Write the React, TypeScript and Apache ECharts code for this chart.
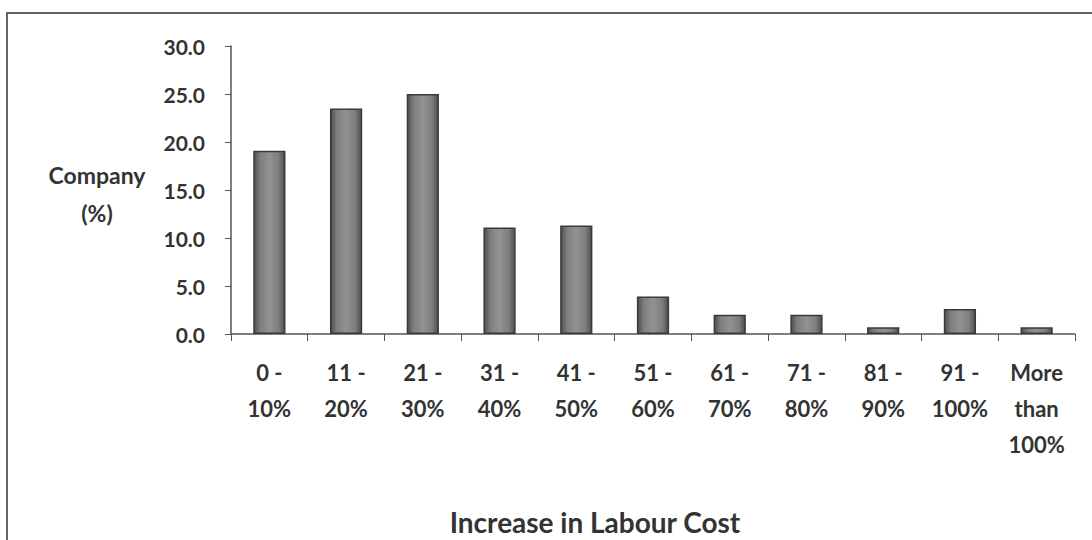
import React, { useEffect, useRef } from "react";
import * as echarts from "echarts";

const categories = [
  "0 -\n10%",
  "11 -\n20%",
  "21 -\n30%",
  "31 -\n40%",
  "41 -\n50%",
  "51 -\n60%",
  "61 -\n70%",
  "71 -\n80%",
  "81 -\n90%",
  "91 -\n100%",
  "More\nthan\n100%",
];
const companyPct = [19.1, 23.5, 25.0, 11.1, 11.3, 3.9, 2.0, 2.0, 0.7, 2.6, 0.7];
const xTitle = "Increase in Labour Cost";
const yTitle = "Company\n(%)";

const FONT = "Lato, 'Open Sans', sans-serif";

export default function App() {
  const ref = useRef<HTMLDivElement>(null);
  useEffect(() => {
    if (!ref.current) return;
    const chart = echarts.init(ref.current, undefined, { renderer: "svg" });
    const barColor = new echarts.graphic.LinearGradient(0, 0, 1, 0, [
      { offset: 0, color: "#4e4e4e" },
      { offset: 0.2, color: "#7e7e7e" },
      { offset: 0.5, color: "#929292" },
      { offset: 0.8, color: "#7e7e7e" },
      { offset: 1, color: "#4e4e4e" },
    ]);
    chart.setOption({
      animation: false,
      backgroundColor: "#fff",
      textStyle: { fontFamily: FONT },
      graphic: [
        {
          type: "rect",
          shape: { x: 7, y: 13, width: 1100, height: 540 },
          style: { fill: "none", stroke: "#666", lineWidth: 2 },
          z: -1,
          silent: true,
        },
        {
          type: "text",
          x: 97,
          y: 194,
          style: {
            text: yTitle,
            fontFamily: FONT,
            fontSize: 23,
            fontWeight: "bold",
            fill: "#333",
            align: "center",
            verticalAlign: "middle",
            lineHeight: 38,
          },
        },
        {
          type: "text",
          x: 595,
          y: 522,
          style: {
            text: xTitle,
            fontFamily: FONT,
            fontSize: 28,
            fontWeight: "bold",
            fill: "#333",
            align: "center",
            verticalAlign: "middle",
          },
        },
      ],
      grid: { left: 231, right: 17, top: 46, bottom: 206, containLabel: false },
      xAxis: {
        type: "category",
        data: categories,
        boundaryGap: true,
        axisLine: { lineStyle: { color: "#555", width: 1.5 } },
        axisTick: { show: true, alignWithLabel: false, length: 7, lineStyle: { color: "#555" } },
        axisLabel: {
          color: "#333",
          fontFamily: FONT,
          fontSize: 22,
          fontWeight: "bold",
          lineHeight: 36,
          margin: 20,
          interval: 0,
        },
      },
      yAxis: {
        type: "value",
        min: 0,
        max: 30,
        interval: 5,
        splitLine: { show: false },
        axisLine: { show: true, lineStyle: { color: "#555", width: 1.5 } },
        axisTick: { show: true, length: 6, lineStyle: { color: "#555" } },
        axisLabel: {
          color: "#333",
          fontFamily: FONT,
          fontSize: 21,
          fontWeight: "bold",
          margin: 26,
          formatter: (v: number) => v.toFixed(1),
        },
      },
      series: [
        {
          type: "bar",
          data: companyPct,
          barWidth: "42%",
          itemStyle: { color: barColor, borderColor: "#3a3a3a", borderWidth: 1.5 },
        },
      ],
    });
    return () => chart.dispose();
  }, []);
  return (
    <div
      ref={ref}
      style={{ position: "fixed", left: 0, top: 0, width: 1092, height: 540 }}
    />
  );
}
